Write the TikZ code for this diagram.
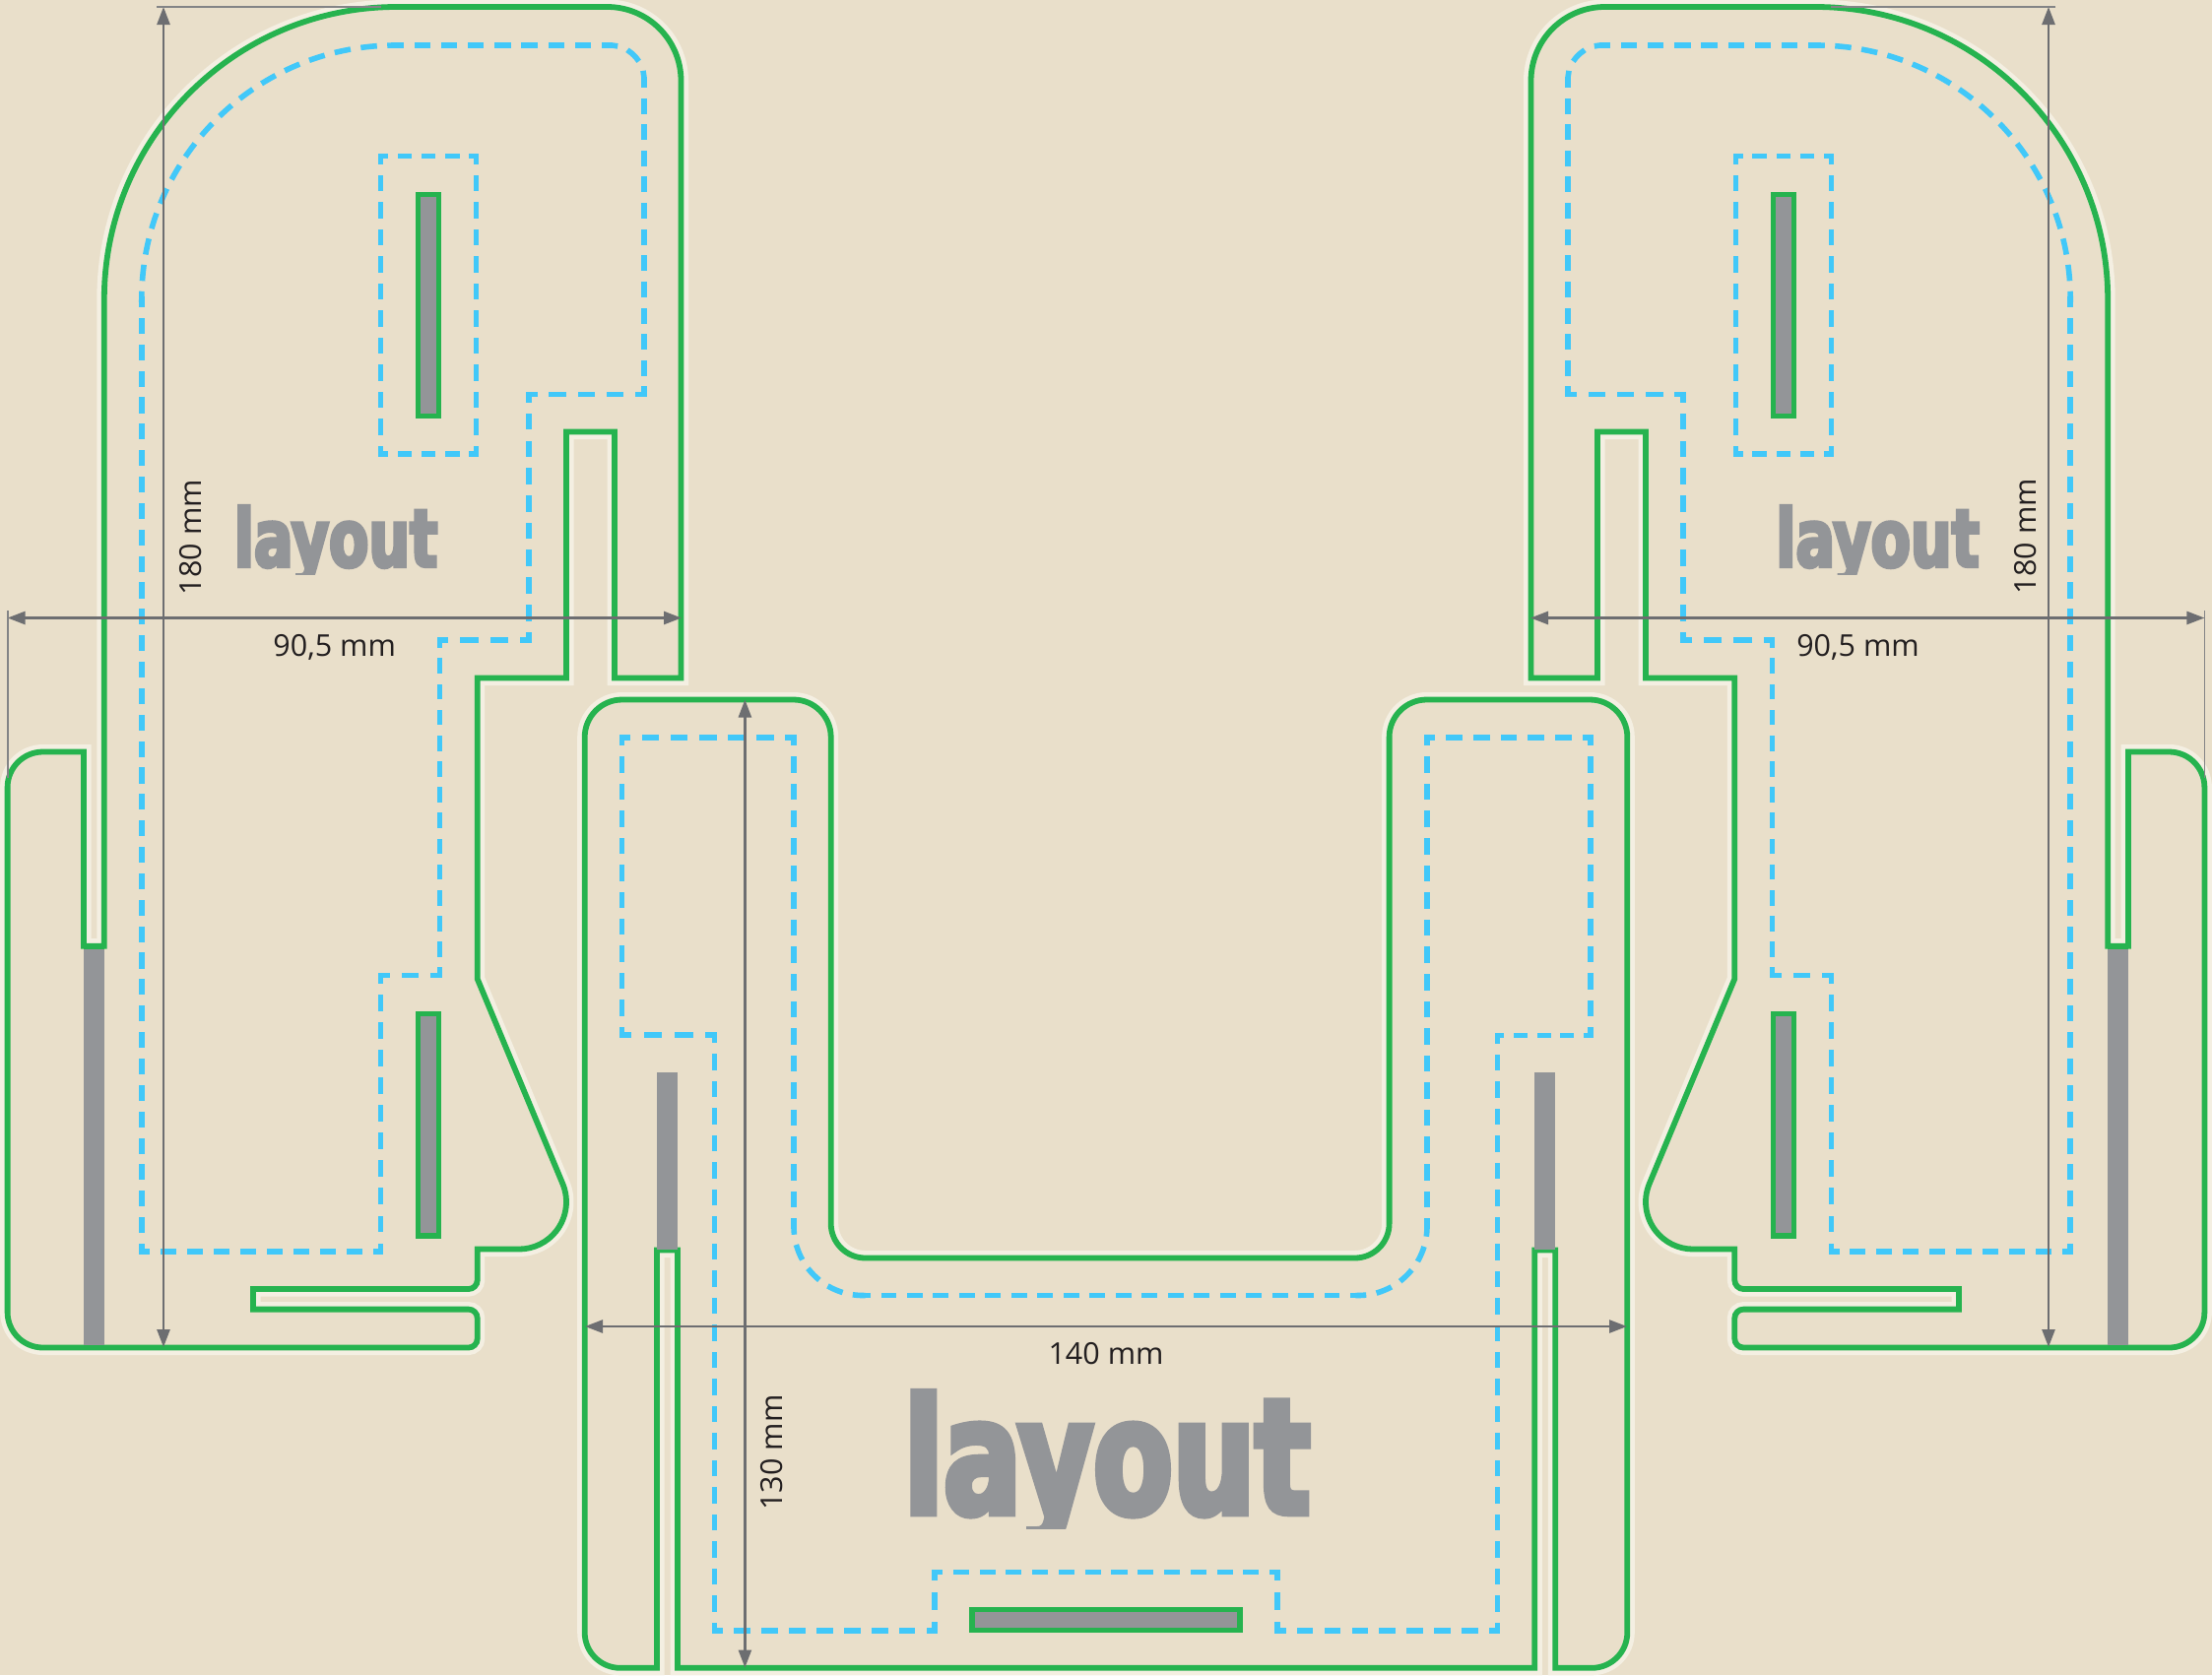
\documentclass[tikz,border=0pt]{standalone}
\usepackage{fontspec}
\setmainfont{Open Sans}
\newfontfamily\layoutfont[FakeStretch=0.72,FakeBold=4]{DejaVu Sans Bold}
\usetikzlibrary{arrows.meta}
\definecolor{paper}{HTML}{E9DFCA}
\definecolor{cutgreen}{HTML}{26B34F}
\definecolor{safeblue}{HTML}{41C8F9}
\definecolor{bargray}{HTML}{939598}
\definecolor{halocol}{HTML}{F4EFE2}
\definecolor{dimgray}{HTML}{6D6E71}
\definecolor{labelcol}{HTML}{231F20}
\newcommand\safeseg[4]{%
  \pgfmathsetmacro\mysl{abs(#3-#1)+abs(#4-#2)}%
  \pgfmathsetmacro\mysn{max(1,round(\mysl/27))}%
  \pgfmathsetmacro\mysp{\mysl/\mysn}%
  \pgfmathsetmacro\myon{max(1,\mysp*0.6-5.6)}%
  \pgfmathsetmacro\myoff{\mysp-\myon}%
  \pgfmathsetmacro\myph{\myon/2}%
  \draw[safeink,dash pattern=on \myon pt off \myoff pt,dash phase=\myph pt] (#1,#2) -- (#3,#4);%
}
\newcommand\safepoly[1]{%
  \gdef\lastpx{}%
  \foreach \px/\py in {#1}{%
    \ifx\lastpx\empty\else\safeseg{\lastpx}{\lastpy}{\px}{\py}\fi
    \xdef\lastpx{\px}\xdef\lastpy{\py}%
  }%
}
\newcommand\safearc[4]{%
  \draw[safeink,dash pattern=on 10.9pt off 16.1pt,dash phase=5.45pt]
    (#1) arc[start angle=#2,end angle=#3,radius=#4];%
}
\tikzset{
  halo/.style={draw=halocol,line width=15pt,miter limit=10},
  piece/.style={draw=cutgreen,line width=5.8pt,fill=paper,miter limit=10},
  slit/.style={draw=cutgreen,line width=5.8pt,fill=bargray},
  bar/.style={fill=bargray},
  safeink/.style={draw=safeblue,line width=5.6pt,line cap=rect},
  dimline/.style={draw=dimgray,line width=2.6pt,{Triangle[length=18pt,width=13pt]}-{Triangle[length=18pt,width=13pt]}},
  extline/.style={draw=dimgray!85,line width=1.8pt},
  dimlabel/.style={text=labelcol,font=\fontsize{30.5}{30.5}\selectfont,inner sep=0pt},
  biglayout/.style={text=bargray,inner sep=0pt,anchor=base,font=\layoutfont\fontsize{163}{163}\selectfont},
  smalllayout/.style={text=bargray,inner sep=0pt,anchor=base,font=\layoutfont\fontsize{81.5}{81.5}\selectfont},
}
\def\sideoutline{(105.8,304) arc[start angle=180,end angle=270,radius=297]
  -- (616.5,7) arc[start angle=270,end angle=360,radius=75]
  -- (691.5,688.5) -- (624,688.5) -- (624,438.5) -- (575,438.5) -- (575,688.5) -- (484.7,688.5)
  -- (484.7,994) -- (571.4,1202.3) arc[start angle=-22.3,end angle=90,radius=48]
  -- (484.7,1268.5) -- (484.7,1300) arc[start angle=0,end angle=90,radius=9]
  -- (257,1309) -- (257,1329.6) -- (475.7,1329.6) arc[start angle=270,end angle=360,radius=9]
  -- (484.7,1359.5) arc[start angle=0,end angle=90,radius=9]
  -- (43.6,1368.5) arc[start angle=90,end angle=180,radius=36]
  -- (7.6,799.5) arc[start angle=180,end angle=270,radius=36]
  -- (85,763.5) -- (85,960.7) -- (105.8,960.7) -- cycle}
\def\sidepiece{%
  \draw[halo] \sideoutline;
  \draw[piece] \sideoutline;
  \fill[bar] (85,960.7) rectangle (106,1368);
  \draw[cutgreen,line width=5.8pt] (85,960.7) -- (105.8,960.7);
  \draw[cutgreen,line width=5.8pt] (82,1368.5) -- (109,1368.5);
  \draw[slit] (424.5,197.5) rectangle (445.5,422.5);
  \draw[slit] (424.5,1029.5) rectangle (445.5,1255);
  \safearc{143.8,304}{180}{270}{258}
  \safepoly{401.8/46,619/46}
  \safearc{619,46}{270}{360}{35}
  \safepoly{654/81,654/400.4,536.8/400.4,536.8/650,446.4/650,446.4/990.3,386.6/990.3,386.6/1271,143.8/1271,143.8/304}
  \safepoly{386.6/158.5,483.5/158.5,483.5/461,386.6/461,386.6/158.5}
  \draw[dimline] (166,7) -- (166,1368);
  \draw[dimline] (7.6,627.5) -- (692,627.5);
  \draw[extline] (159,7) -- (387,7);
  \draw[extline] (7.6,620) -- (7.6,790);
}
\def\centeroutline{(593.7,748.5) arc[start angle=180,end angle=270,radius=38]
  -- (805.7,710.5) arc[start angle=270,end angle=360,radius=38]
  -- (843.7,1242.5) arc[start angle=180,end angle=90,radius=35]
  -- (1375.6,1277.5) arc[start angle=90,end angle=0,radius=35]
  -- (1410.6,748.5) arc[start angle=180,end angle=270,radius=38]
  -- (1614.3,710.5) arc[start angle=270,end angle=360,radius=38]
  -- (1652.3,1657.8) arc[start angle=0,end angle=90,radius=36]
  -- (1579.3,1693.8) -- (1579.3,1269.5) -- (1558.3,1269.5) -- (1558.3,1693.8)
  -- (688,1693.8) -- (688,1269.5) -- (667,1269.5) -- (667,1693.8)
  -- (629.7,1693.8) arc[start angle=90,end angle=180,radius=36] -- cycle}
\begin{document}
\begin{tikzpicture}[x=1pt,y=-1pt]
\useasboundingbox (0,0) rectangle (2246,1701);
\fill[paper] (0,0) rectangle (2246,1701);
% side pieces
\begin{scope}
  \sidepiece
\end{scope}
\begin{scope}[shift={(2246,0)},xscale=-1]
  \sidepiece
\end{scope}
% centre piece
\draw[halo] \centeroutline;
\draw[piece] \centeroutline;
\fill[bar] (667,1089) rectangle (688,1269);
\fill[bar] (1558.3,1089) rectangle (1579.3,1269);
\draw[slit] (987,1634.5) rectangle (1259,1655.5);
\safepoly{631.6/1051,631.6/749,806/749,806/1245.5}
\safearc{806,1245.5}{180}{90}{70}
\safepoly{876/1315.5,1379/1315.5}
\safearc{1379,1315.5}{90}{0}{70}
\safepoly{1449/1245.5,1449/749,1615/749,1615/1051.5,1520.3/1051.5,1520.3/1656,1297.2/1656,1297.2/1596.5,949/1596.5,949/1656,725.5/1656,725.5/1051,631.6/1051}
\draw[dimline] (594,1347) -- (1652,1347);
\draw[dimline] (756.4,710.5) -- (756.4,1693.5);
% labels
\node[dimlabel] (wl) at (339.7,657) {90,5 mm};
\node[dimlabel] (wr) at (1886.5,657) {90,5 mm};
\node[dimlabel] (wc) at (1123,1374.5) {140 mm};
\node[dimlabel,rotate=90] (hl) at (193.5,545.5) {180 mm};
\node[dimlabel,rotate=90] (hr) at (2057,544.5) {180 mm};
\node[dimlabel,rotate=90] (hc) at (784,1475) {130 mm};
\begin{scope}
  \clip (900,1380) rectangle (1350,1552);
  \node[biglayout] (lc) at (1124,1537) {layout};
\end{scope}
\begin{scope}
  \clip (220,490) rectangle (460,583.5);
  \node[smalllayout] (ll) at (341,575.5) {layout};
\end{scope}
\begin{scope}
  \clip (1790,490) rectangle (2030,583.5);
  \node[smalllayout] (lr) at (1906.5,575.5) {layout};
\end{scope}
\end{tikzpicture}
\end{document}
